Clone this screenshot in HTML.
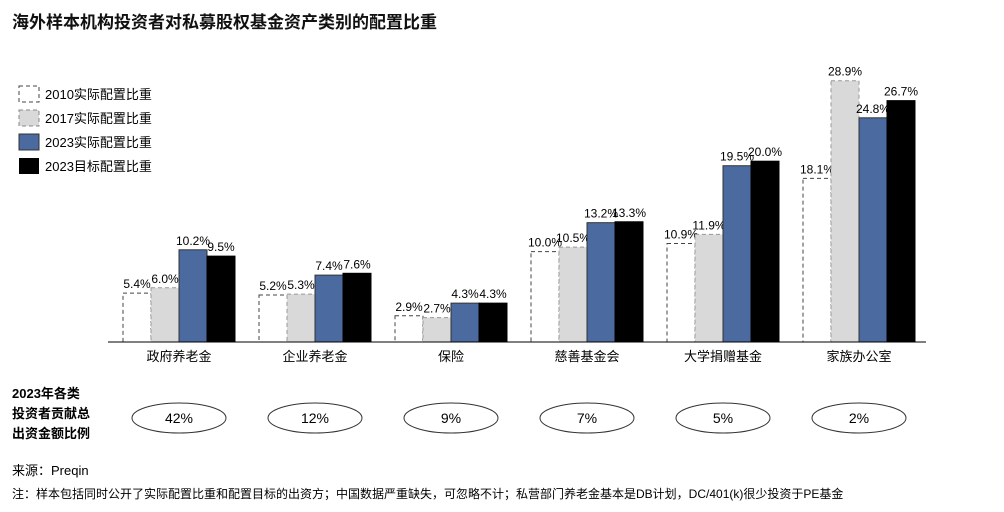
<!DOCTYPE html>
<html><head><meta charset="utf-8"><style>
body{margin:0;background:#fff;width:1004px;height:507px;overflow:hidden;font-family:"Liberation Sans","Noto Sans CJK SC",sans-serif}
svg text{font-family:"Liberation Sans","Noto Sans CJK SC",sans-serif}
</style></head><body>
<svg width="1004" height="507" id="c">
<text x="12" y="28" font-size="17" font-weight="bold" fill="#111" font-family="Noto Serif CJK SC">海外样本机构投资者对私募股权基金资产类别的配置比重</text>
<g>
<rect x="19" y="86" width="20" height="16" fill="#fff" stroke="#444" stroke-dasharray="4,3"/><text x="45" y="99" font-size="13">2010实际配置比重</text>
<rect x="19" y="110" width="20" height="16" fill="#d9d9d9" stroke="#888" stroke-dasharray="4,3"/><text x="45" y="123" font-size="13">2017实际配置比重</text>
<rect x="19" y="134" width="20" height="16" fill="#4a6aa0" stroke="#333"/><text x="45" y="147" font-size="13">2023实际配置比重</text>
<rect x="19" y="158" width="20" height="16" fill="#000"/><text x="45" y="171" font-size="13">2023目标配置比重</text>
</g>
<g id="bars"></g>
<line x1="108" y1="342" x2="926" y2="342" stroke="#000"/>
<text x="12" y="398" font-size="13" font-weight="bold">2023年各类</text>
<text x="12" y="418" font-size="13" font-weight="bold">投资者贡献总</text>
<text x="12" y="438" font-size="13" font-weight="bold">出资金额比例</text>
<text x="12" y="475" font-size="13">来源：Preqin</text>
<text x="12" y="498" font-size="12">注：样本包括同时公开了实际配置比重和配置目标的出资方；中国数据严重缺失，可忽略不计；私营部门养老金基本是DB计划，DC/401(k)很少投资于PE基金</text>
</svg>
<script>
const categories=["政府养老金","企业养老金","保险","慈善基金会","大学捐赠基金","家族办公室"];
const s2010=[5.4,5.2,2.9,10.0,10.9,18.1];
const s2017=[6.0,5.3,2.7,10.5,11.9,28.9];
const s2023=[10.2,7.4,4.3,13.2,19.5,24.8];
const t2023=[9.5,7.6,4.3,13.3,20.0,26.7];
const shares=["42%","12%","9%","7%","5%","2%"];
const series=[s2010,s2017,s2023,t2023];
const styles=[{f:"#fff",s:"#444",d:"4,3"},{f:"#d9d9d9",s:"#999",d:"4,3"},{f:"#4a6aa0",s:"#333",d:""},{f:"#000",s:"#000",d:""}];
const base=342,ppu=9.04,bw=28;
const y=v=>base-v*ppu;
const cx=i=>179+i*136;
const g=document.getElementById('bars');
const NS="http://www.w3.org/2000/svg";
categories.forEach((c,i)=>{
 series.forEach((s,k)=>{
  const x=cx(i)-2*bw+k*bw;
  const r=document.createElementNS(NS,'rect');
  
  
  r.setAttribute('x',x);r.setAttribute('y',y(s[i]));r.setAttribute('width',bw);r.setAttribute('height',s[i]*ppu);
  r.setAttribute('fill',styles[k].f);r.setAttribute('stroke',styles[k].s);
  if(styles[k].d)r.setAttribute('stroke-dasharray',styles[k].d);
  g.appendChild(r);
  const t=document.createElementNS(NS,'text');
  
  
  t.setAttribute('x',x+bw/2);t.setAttribute('y',y(s[i])-5);t.setAttribute('text-anchor','middle');t.setAttribute('font-size','12');
  t.textContent=s[i].toFixed(1)+"%";g.appendChild(t);
 });
 const l=document.createElementNS(NS,'text');
 
 
 l.setAttribute('x',cx(i));l.setAttribute('y',361);l.setAttribute('text-anchor','middle');l.setAttribute('font-size','13');
 l.textContent=c;g.appendChild(l);
 const e=document.createElementNS(NS,'ellipse');
 
 
 e.setAttribute('cx',cx(i));e.setAttribute('cy',418);e.setAttribute('rx',47);e.setAttribute('ry',15);e.setAttribute('fill','none');e.setAttribute('stroke','#333');
 g.appendChild(e);
 const st=document.createElementNS(NS,'text');
 
 
 st.setAttribute('x',cx(i));st.setAttribute('y',423);st.setAttribute('text-anchor','middle');st.setAttribute('font-size','14');
 st.textContent=shares[i];g.appendChild(st);
});
</script>
</body></html>
